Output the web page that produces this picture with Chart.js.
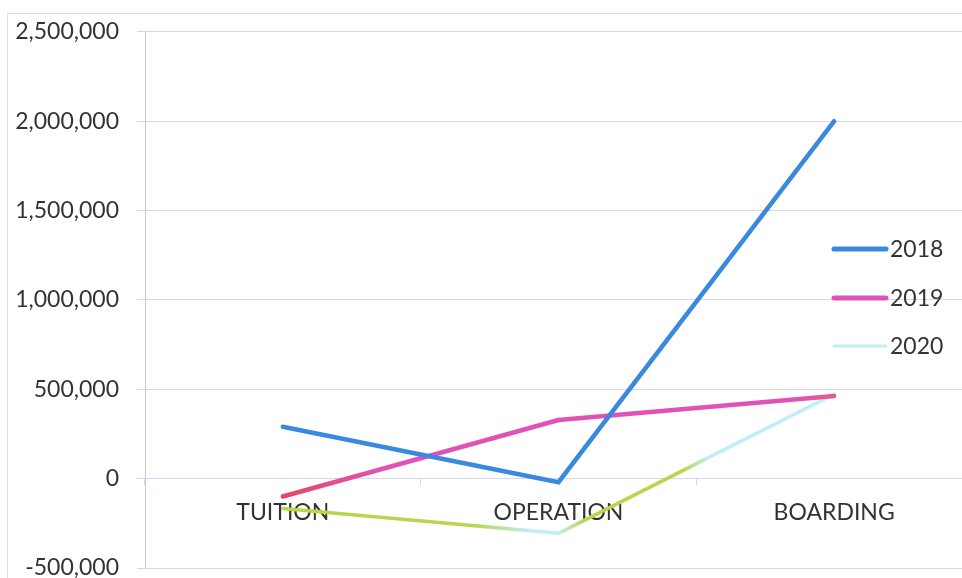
<!DOCTYPE html>
<html>
<head>
<meta charset="utf-8">
<script src="https://cdn.jsdelivr.net/npm/chart.js@4"></script>
<style>
  html, body { margin: 0; padding: 0; background: #fff; overflow: hidden; }
  #wrap { width: 962px; height: 578px; overflow: hidden; }
  canvas { display: block; }
</style>
</head>
<body>
<div id="wrap"><canvas id="c" width="990" height="600"></canvas></div>
<script>
const categories = ["TUITION", "OPERATION", "BOARDING"]
const years = ["2018", "2019", "2020"]
const values2018 = [290000, -20000, 2000000]
const values2019 = [-100000, 328000, 462000]
const values2020 = [-167000, -306000, 473000]
const yTicks = [-500000, 0, 500000, 1000000, 1500000, 2000000, 2500000]

const FONT = "Lato"
const TEXT = "#333333"
const GRID = "#d6d6f0"

const canvas = document.getElementById("c")
const g = canvas.getContext("2d")

// the scan bleeds some colour into the lines, copy that roughly per segment
function segGradient(ctx, stops) {
  const grad = g.createLinearGradient(ctx.p0.x, 0, ctx.p1.x, 0)
  stops.forEach(s => grad.addColorStop(s[0], s[1]))
  return grad
}
const blue = "#3a89df"
const pink = "#e052b6"
const cyan = "#bfeff4"
const lime = "#b7d74b"

const framePlugin = {
  id: "frame",
  beforeDraw(chart) {
    const c = chart.ctx
    c.save()
    c.strokeStyle = "#dcdcf2"
    c.lineWidth = 1
    c.strokeRect(7.5, 13.5, 1200, 800)
    c.restore()
  }
}

const legendPlugin = {
  id: "sideLegend",
  afterDraw(chart) {
    const c = chart.ctx
    const rows = [249, 298, 346]
    c.save()
    c.font = "23px " + FONT
    c.textBaseline = "middle"
    c.textAlign = "left"
    chart.data.datasets.forEach((ds, i) => {
      const y = rows[i]
      c.strokeStyle = ds.legendColor
      c.lineWidth = ds.legendWidth
      c.lineCap = "round"
      c.beginPath()
      c.moveTo(834, y)
      c.lineTo(886, y)
      c.stroke()
      c.fillStyle = TEXT
      c.fillText(ds.label, 890, y + 1)
    })
    c.restore()
  }
}

const chart = new Chart(canvas, {
  type: "line",
  data: {
    labels: categories,
    datasets: [
      {
        label: years[0],
        data: values2018,
        borderColor: blue,
        legendColor: blue,
        legendWidth: 5,
        borderWidth: 4.5,
        borderCapStyle: "round",
        pointRadius: 0
      },
      {
        label: years[1],
        data: values2019,
        borderColor: pink,
        legendColor: pink,
        legendWidth: 5,
        borderWidth: 4.5,
        borderCapStyle: "round",
        pointRadius: 0,
        segment: {
          borderColor: ctx => ctx.p0DataIndex === 0
            ? segGradient(ctx, [[0, "#e8475c"], [0.35, pink], [1, pink]])
            : segGradient(ctx, [[0, pink], [0.85, pink], [1, "#e65a8c"]])
        }
      },
      {
        label: years[2],
        data: values2020,
        borderColor: cyan,
        legendColor: cyan,
        legendWidth: 3,
        borderWidth: 3.5,
        borderCapStyle: "round",
        pointRadius: 0,
        segment: {
          borderColor: ctx => ctx.p0DataIndex === 0
            ? segGradient(ctx, [[0, lime], [0.7, lime], [0.9, cyan], [1, cyan]])
            : segGradient(ctx, [[0, cyan], [0.1, lime], [0.45, lime], [0.55, cyan], [1, cyan]])
        }
      }
    ]
  },
  options: {
    responsive: false,
    animation: false,
    devicePixelRatio: 1,
    layout: {
      padding: { left: 0, top: 29, right: 18, bottom: 32 }
    },
    plugins: {
      legend: { display: false },
      tooltip: { enabled: false }
    },
    scales: {
      x: {
        type: "category",
        position: { y: 0 },
        offset: true,
        z: 1,
        grid: {
          offset: true,
          drawOnChartArea: false,
          drawTicks: true,
          tickLength: 6,
          color: GRID
        },
        border: { display: true, color: GRID },
        ticks: {
          color: TEXT,
          font: { family: FONT, size: 23 },
          padding: 14,
          maxRotation: 0
        }
      },
      y: {
        min: yTicks[0],
        max: yTicks[yTicks.length - 1],
        afterFit: s => { s.width = 145 },
        afterBuildTicks: s => { s.ticks = yTicks.map(v => ({ value: v })) },
        grid: {
          color: GRID,
          tickLength: 8
        },
        border: { color: "#c4c4ee" },
        ticks: {
          color: TEXT,
          font: { family: FONT, size: 23 },
          padding: 18,
          callback: v => v.toLocaleString("en-US")
        }
      }
    }
  },
  plugins: [framePlugin, legendPlugin]
})
</script>
</body>
</html>
